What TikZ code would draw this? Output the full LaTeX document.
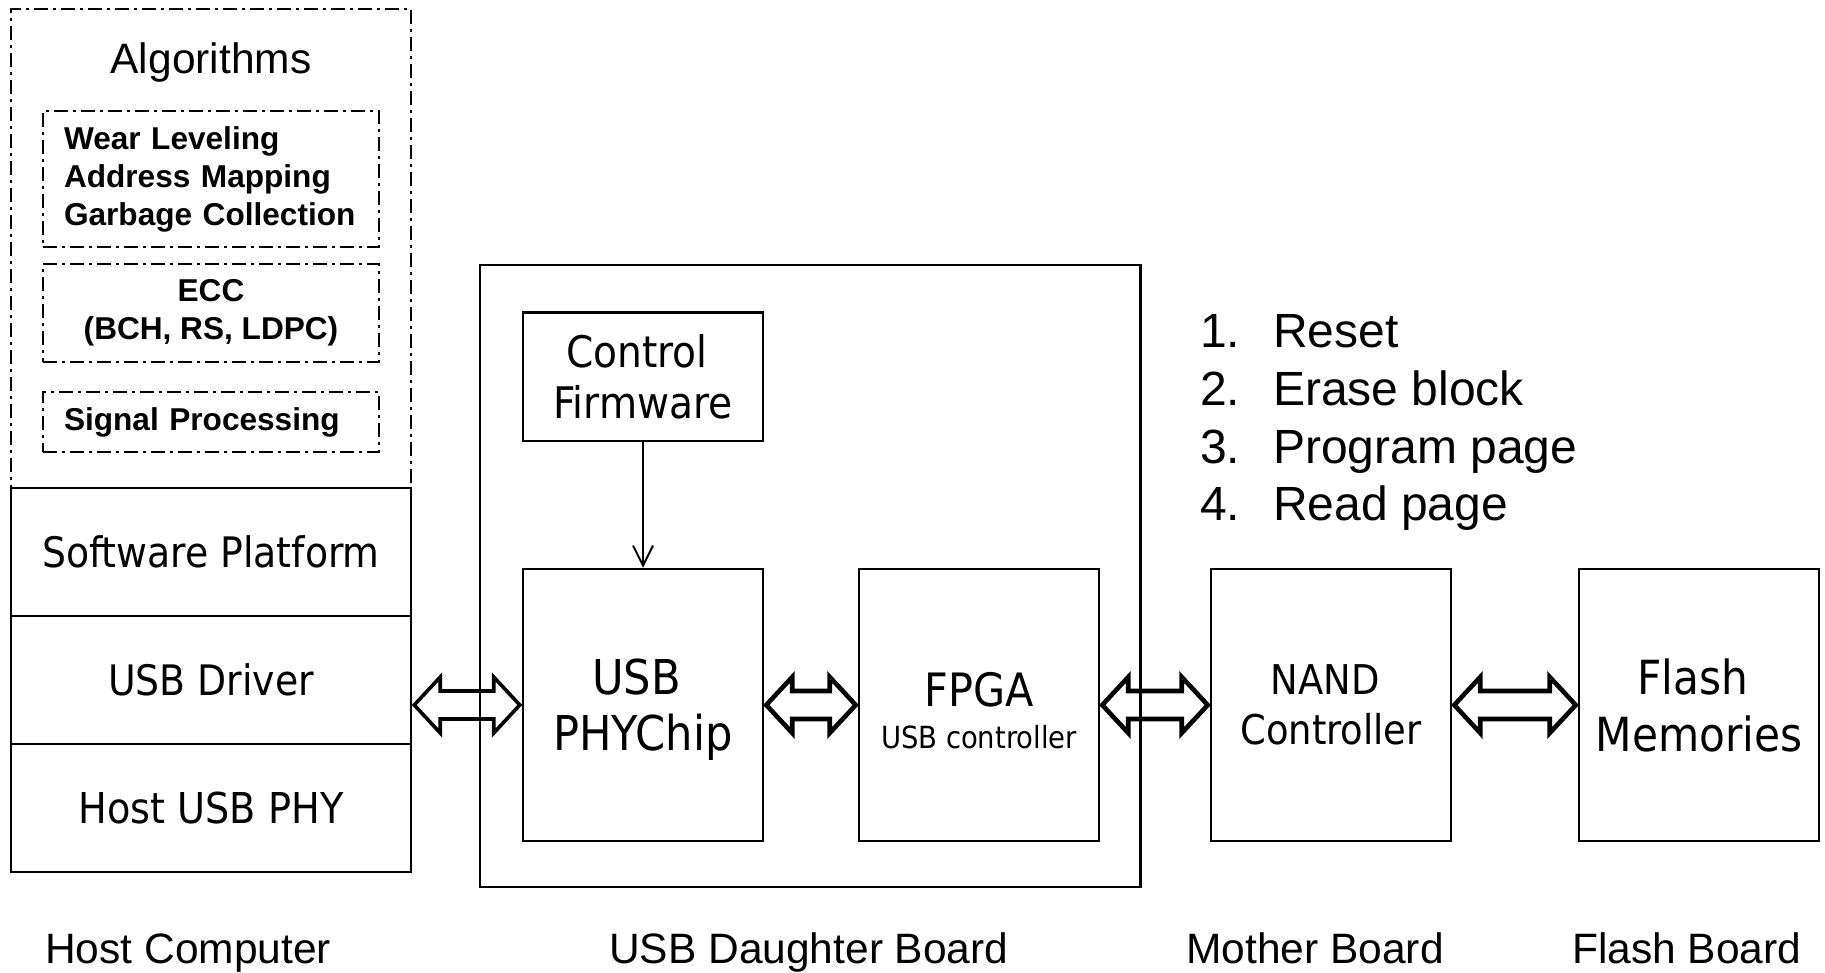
\documentclass[tikz,border=0pt]{standalone}
\usepackage{fontspec}
\setmainfont{Liberation Sans}
\newfontfamily\tah{DejaVu Sans Condensed}
\usetikzlibrary{arrows.meta,calc}
\begin{document}
\begin{tikzpicture}[x=1pt,y=-1pt,
  box/.style={draw, line width=2.5pt, inner sep=0pt, align=center},
  ddbox/.style={draw, line width=2.3pt, dash pattern=on 14pt off 5pt on 3pt off 5pt, inner sep=0pt},
  boldtxt/.style={font=\bfseries\fontsize{31.6}{38}\selectfont},
  lbl/.style={anchor=base west, inner sep=0pt, font=\fontsize{42.5}{50}\selectfont},
  lst/.style={anchor=base west, inner sep=0pt, font=\fontsize{48}{56}\selectfont},
  inner/.style={inner sep=0pt, align=center},
  barrow/.style={draw, line width=4.5pt, line join=miter},
]
\useasboundingbox (0,0) rectangle (1825,973);

% Host computer: algorithms block
\node[ddbox, line width=2pt, minimum width=400, minimum height=479] (alg) at (211,248.5) {};
\node[anchor=base, inner sep=0pt, font=\fontsize{42.5}{50}\selectfont] (algt) at (211,74) {Algorithms};
\node[ddbox, boldtxt, minimum width=336, minimum height=136, text width=294, align=left] (wl) at (211,179)
  {Wear Leveling\\Address Mapping\\Garbage Collection};
\node[ddbox, boldtxt, minimum width=336, minimum height=98, align=center] (ecc) at (211,313)
  {ECC\\(BCH, RS, LDPC)};
\node[ddbox, boldtxt, minimum width=336, minimum height=60, text width=294, align=left] (sig) at (211,422)
  {Signal Processing};

% Host computer stack
\node[box, minimum width=400, minimum height=128, font=\tah\fontsize{42}{50}\selectfont] (sp) at (211,552) {Software Platform};
\node[box, minimum width=400, minimum height=128, font=\tah\fontsize{42}{50}\selectfont] (usb) at (211,680) {USB Driver};
\node[box, minimum width=400, minimum height=128, font=\tah\fontsize{42.5}{50}\selectfont] (hphy) at (211,808) {Host USB PHY};

% USB daughter board
\node[box, minimum width=660.5, minimum height=622] (db) at (810.25,576) {};
\node[box, minimum width=240, minimum height=128.5, font=\tah\fontsize{43.5}{51}\selectfont] (cf) at (643,376.75)
  {Control\hspace*{12pt}\\Firmware};
\node[box, minimum width=240, minimum height=272] (phy) at (643,705) {};
\node[inner, font=\tah\fontsize{48}{56}\selectfont] (phyt) at ([yshift=-5pt]phy.center) {USB\hspace*{13pt}\\PHYChip};
\node[box, minimum width=240, minimum height=272] (fpga) at (979,705) {};
\node[inner, font=\tah\fontsize{46}{56}\selectfont] (fpgat) at ([yshift=-6pt]fpga.center)
  {FPGA\\[-14pt]{\fontsize{30.5}{42}\selectfont USB controller}};

% Mother board and flash board
\node[box, minimum width=240, minimum height=272, font=\tah\fontsize{41}{50}\selectfont] (nand) at (1331,705) {NAND\hspace*{12pt}\\Controller};
\node[box, minimum width=240, minimum height=272, font=\tah\fontsize{47}{57}\selectfont] (flash) at (1699,705) {Flash\hspace*{13pt}\\Memories};

% firmware arrow
\draw[line width=2pt, -{Straight Barb[length=20pt,width=20pt,line width=2pt]}] (cf) -- (phy);

% block double arrows
\foreach \a/\b/\w in {usb/phy/3.6, phy/fpga/4.6, fpga/nand/4.6, nand/flash/4.6} {
  \draw[barrow, line width=\w pt] let \p1=(\a.east), \p2=(\b.west) in
    (\x1+2pt,\y2) -- (\x1+28pt,\y2+28pt) -- (\x1+28pt,\y2+14pt) -- (\x2-28pt,\y2+14pt)
    -- (\x2-28pt,\y2+28pt) -- (\x2-2pt,\y2) -- (\x2-28pt,\y2-28pt) -- (\x2-28pt,\y2-14pt)
    -- (\x1+28pt,\y2-14pt) -- (\x1+28pt,\y2-28pt) -- cycle;
}

% command list
\node[lst] (c1) at (1200,348) {\makebox[73pt][l]{1.}Reset};
\node[lst] (c2) at (1200,405) {\makebox[73pt][l]{2.}Erase block};
\node[lst] (c3) at (1200,463) {\makebox[73pt][l]{3.}Program page};
\node[lst] (c4) at (1200,520) {\makebox[73pt][l]{4.}Read page};

% bottom labels
\node[lbl] (l1) at (45,963) {Host Computer};
\node[lbl] (l2) at (609,963) {USB Daughter Board};
\node[lbl] (l3) at (1186,963) {Mother Board};
\node[lbl] (l4) at (1572,963) {Flash Board};
\end{tikzpicture}
\end{document}
